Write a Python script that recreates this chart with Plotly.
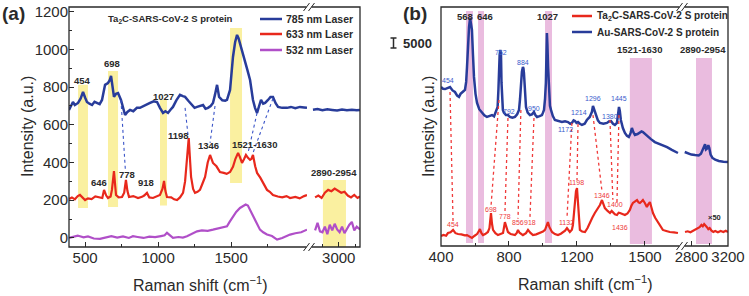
import plotly.graph_objects as go

W, H = 749, 296


def px(x):
    return x / W


def py(y):
    return 1 - y / H


# ---------------- panel (a): Ta2C-SARS-CoV-2 S protein, three lasers ----------------
a785_x = [390, 405, 417, 430, 452, 470, 486, 500, 513, 530, 548, 565, 582, 600, 616, 637, 657, 668,
          678, 688, 698, 712, 726, 746, 760, 774, 790, 808, 830, 855, 876, 900, 925, 945, 970, 993,
          1013, 1034, 1050, 1068, 1085, 1102, 1125, 1150, 1170, 1185, 1210, 1233, 1250, 1267, 1290,
          1308, 1325, 1342, 1360, 1376, 1390, 1404, 1418, 1440, 1460, 1472, 1493, 1513, 1528, 1541,
          1551, 1561, 1578, 1596, 1612, 1630, 1650, 1664, 1678, 1692, 1705, 1720, 1733, 1753, 1770,
          1787, 1805, 1822, 1850, 1883, 1910, 1940, 1972, 2000, 2020]
a785_y = [679, 700, 721, 705, 716, 740, 775, 745, 721, 712, 705, 722, 716, 710, 732, 812, 822, 835,
          859, 790, 748, 765, 769, 732, 690, 652, 668, 679, 672, 690, 690, 700, 712, 716, 725, 721,
          690, 663, 672, 663, 680, 695, 730, 759, 752, 748, 725, 705, 690, 695, 700,
          705, 685, 690, 700, 716, 760, 812, 748, 730, 728, 732, 785, 960, 1040, 1077,
          1060, 1034, 990, 944, 890, 838, 732, 690, 663, 700, 732, 712, 716, 732, 748,
          748, 715, 695, 690, 690, 695, 688, 695, 692, 690]
a785_hi_x = [2842, 2870, 2900, 2930, 2960, 2990, 3020, 3050, 3080, 3110, 3130]
a785_hi_y = [680, 684, 678, 682, 679, 676, 681, 678, 680, 677, 679]

a633_x = [390, 410, 430, 450, 465, 480, 500, 520, 545, 570, 602, 618, 630, 645, 657, 675, 684, 698,
          706, 712, 730, 753, 768, 780, 790, 801, 830, 863, 890, 905, 924, 940, 965, 990, 1013, 1030,
          1041, 1050, 1061, 1090, 1110, 1130, 1150, 1171, 1185, 1198, 1210, 1220, 1226, 1240, 1253,
          1270, 1287, 1305, 1322, 1340, 1356, 1366, 1376, 1400, 1424, 1450, 1470, 1493, 1513, 1530,
          1548, 1560, 1575, 1590, 1602, 1616, 1630, 1640, 1650, 1665, 1678, 1700, 1719, 1735, 1746,
          1765, 1787, 1820, 1850, 1880, 1904, 1940, 1970, 2000, 2020]
a633_y = [207, 215, 205, 222, 228, 215, 201, 210, 206, 220, 217, 212, 255, 225, 212, 220, 255, 355,
          280, 228, 215, 217, 240, 308, 250, 217, 222, 212, 218, 225, 239, 215, 212, 220, 228, 260,
          302, 250, 217, 215, 205, 201, 215, 239, 300, 420, 530, 400, 324, 260, 239,
          245, 255, 290, 324, 400, 440, 420, 398, 380, 350, 345, 340, 350, 377, 420,
          451, 430, 398, 420, 440, 425, 414, 420, 440, 380, 345, 320, 292, 270, 255,
          245, 228, 220, 215, 222, 212, 218, 210, 222, 228]
a633_hi_x = [2855, 2875, 2895, 2915, 2935, 2955, 2975, 2995, 3015, 3035, 3055, 3075, 3095, 3115, 3130]
a633_hi_y = [215, 225, 212, 240, 255, 248, 262, 250, 240, 245, 225, 215, 228, 212, 220]

a532_x = [390, 420, 450, 465, 490, 520, 560, 602, 640, 680, 720, 760, 800, 828, 860, 900, 940, 980,
          1020, 1045, 1061, 1080, 1102, 1140, 1170, 1198, 1230, 1267, 1300, 1340, 1376, 1420, 1450,
          1472, 1490, 1513, 1535, 1561, 1585, 1600, 1615, 1630, 1650, 1675, 1698, 1720, 1746, 1780,
          1815, 1850, 1880, 1904, 1940, 1980, 2020]
a532_y = [0, 5, 12, 9, 3, 8, -3, -5, 4, 10, 2, 8, 0, 9, 5, 0, 7, 4,
          10, 14, 27, 12, 0, 5, 2, 9, 22, 35, 40, 38, 44, 52, 58,
          62, 85, 115, 138, 159, 170, 177, 172, 150, 115, 80, 44, 30, 18, 10,
          -9, 0, 12, 18, 25, 30, 44]
a532_hi_x = [2855, 2870, 2885, 2900, 2915, 2930, 2945, 2960, 2975, 2990, 3005, 3020, 3035, 3050,
             3065, 3080, 3095, 3110, 3130]
a532_hi_y = [40, 80, 35, 30, 60, 20, 70, 40, 75, 45, 30, 60, 25, 50, 70, 85, 40, 60, 45]

# dotted guides from 785 nm bands to 633 nm bands
a_link_x = [[746, 776], [1185, 1205], [1390, 1356], [1678, 1616], [1787, 1650]]
a_link_y = [[732, 360], [690, 546], [700, 504], [663, 451], [740, 451]]

# highlighted bands: (x0, x1, y0, y1)
a_bands = [(452, 520, 159, 812), (657, 726, 164, 886), (1013, 1061, 172, 732), (1493, 1575, 292, 1114)]
a_band_hi = (2903, 3044, -48, 308)

# ---------------- panel (b): Ta2C vs Au substrate ----------------
bau_x = [400, 412, 424, 440, 453, 468, 482, 495, 506, 515, 523, 532, 541, 548, 553, 559, 565, 571,
         576, 582, 588, 594, 603, 612, 625, 641, 655, 670, 685, 700, 712, 718, 726, 733, 738, 741,
         745, 749, 753, 756, 759, 764, 770, 782, 794, 805, 820, 835, 848, 859, 865, 870, 876, 882,
         885, 888, 894, 900, 910, 923, 935, 947, 956, 965, 980, 994, 1000, 1006, 1012, 1017, 1020,
         1023, 1026, 1030, 1035, 1041, 1047, 1058, 1070, 1090, 1111, 1130, 1147, 1160, 1170, 1180,
         1188, 1197, 1206, 1217, 1229, 1245, 1258, 1275, 1288, 1294, 1300, 1311, 1323, 1335, 1355,
         1376, 1390, 1400, 1412, 1423, 1435, 1441, 1447, 1452, 1458, 1470, 1482, 1494, 1505, 1515,
         1523, 1532, 1541, 1556, 1570, 1580, 1588, 1600, 1617, 1635, 1658, 1680, 1705, 1730, 1758,
         1780, 1794]
bau_y = [93000, 92000, 91800, 92500, 93000, 91000, 90100, 88000, 87200, 89000, 89500, 90500, 91300,
         96000, 104700, 118000, 128100, 133400, 130000, 126400, 112000, 98900, 89000, 83700, 80000,
         77800, 76500, 75500, 76000, 76600, 75800, 77800, 79500, 81300, 92000, 104700, 112000,
         114700, 112000, 95400, 88000, 79600, 78000, 76600, 76600, 75500, 75000, 75500, 77000,
         79600, 86000, 95400, 102000, 104700, 104000, 101200, 90000, 81300, 78000, 76600, 77000,
         78400, 76500, 75500, 76000, 76600, 78000, 79600, 86000, 95400, 110000, 124600, 118000,
         104700, 92000, 82000, 79600, 76000, 73700, 73000, 72500, 73000, 72500, 71500, 72000,
         73500, 73100, 72000, 72500, 71500, 70800, 71500, 73700, 75500, 78500, 81900, 80000,
         76600, 73500, 72000, 71500, 72000, 73000, 73100, 71500, 70800, 72000, 76600, 81300,
         79000, 73700, 69000, 66100, 64500, 63800, 66000, 69000, 66500, 64900, 65500, 66700,
         67000, 66700, 65500, 63800, 62500, 60800, 60000, 59100, 57800, 56200, 55300, 54400]
bau_hi_x = [2728, 2760, 2800, 2840, 2880, 2905, 2925, 2940, 2950, 2960, 2972, 2985, 2995, 3010,
            3030, 3060, 3100, 3150, 3200]
bau_hi_y = [55000, 54300, 53500, 53200, 53000, 54000, 56200, 58000, 59500, 56500, 57000, 59000,
            57500, 53500, 51500, 50500, 49700, 49300, 49100]

bta_x = [400, 415, 430, 441, 456, 471, 485, 500, 520, 540, 553, 570, 582, 598, 612, 622, 629, 638,
         647, 660, 676, 685, 694, 700, 706, 720, 735, 750, 765, 776, 786, 794, 810, 835, 845, 853,
         862, 882, 900, 912, 925, 941, 960, 982, 1000, 1012, 1022, 1029, 1038, 1053, 1070, 1088,
         1105, 1117, 1130, 1141, 1150, 1158, 1170, 1176, 1183, 1188, 1194, 1200, 1206, 1212, 1217,
         1230, 1247, 1262, 1276, 1290, 1305, 1320, 1335, 1347, 1356, 1364, 1380, 1394, 1404, 1411,
         1423, 1435, 1445, 1453, 1468, 1482, 1497, 1511, 1520, 1529, 1540, 1553, 1562, 1570, 1580,
         1588, 1600, 1611, 1620, 1629, 1638, 1647, 1660, 1676, 1690, 1705, 1725, 1746, 1770, 1794]
bta_y = [5850, 6500, 6000, 7600, 8000, 9400, 7500, 7000, 6800, 6200, 6400, 5500, 4700, 6000, 7000,
         8500, 9900, 7500, 6400, 7000, 8200, 10500, 19300, 13000, 9400, 7500, 6400, 7000, 7600,
         14000, 10000, 8200, 7000, 6400, 7500, 9400, 7800, 6400, 7500, 9400, 7800, 6400, 6800,
         7600, 8500, 9400, 12500, 14000, 11000, 8200, 7000, 6400, 7200, 8200, 9000, 10500, 9000,
         8200, 9500, 12300, 20000, 28700, 32000, 33900, 25200, 15000, 9400, 8500, 8200, 10500,
         14000, 16500, 19300, 21500, 24000, 26900, 24000, 22200, 20500, 19300, 20500, 19900,
         18500, 18100, 19500, 19300, 18500, 18100, 19000, 21100, 23500, 25200, 26000, 26900,
         25500, 25200, 26000, 26900, 25000, 22800, 24500, 25700, 22500, 19300, 16500, 14000,
         11500, 9400, 8800, 8200, 8000, 7600]
bta_hi_x = [2731, 2760, 2790, 2820, 2850, 2870, 2890, 2910, 2925, 2940, 2953, 2970, 2985, 3000,
            3020, 3040, 3060, 3090, 3120, 3150, 3175, 3200]
bta_hi_y = [8200, 8600, 8000, 8800, 9500, 10500, 11000, 12300, 11500, 12800, 11700, 11000, 9900,
            10500, 9000, 8200, 8800, 8000, 8800, 8200, 8900, 8200]

b_link_x = [[453, 471], [741, 694], [794, 776], [870, 853], [947, 923], [1170, 1141],
            [1206, 1200], [1294, 1347], [1394, 1411], [1447, 1435]]
b_link_y = [[90100, 14000], [85400, 23000], [74900, 19000], [79600, 16000], [74900, 16000],
            [72000, 16000], [71400, 38500], [76600, 32000], [73700, 27000], [76600, 25200]]

b_bands = [(547, 588, 1700, 137500), (618, 653, 1700, 137500), (1012, 1053, 1700, 137500),
           (1511, 1641, 1200, 110000)]
b_band_hi = (2851, 3025, 1200, 110000)

# ---------------- styles ----------------
BLUE = "#283c9a"
RED = "#e8281c"
MAG = "#b04fc8"
YELLOW = "#faf0a0"
PINK = "#eabcdf"
INK = "#2a2a2a"
FONT = "Arial, Liberation Sans, sans-serif"

fig = go.Figure()


def line(x, y, xa, ya, color, width):
    fig.add_trace(go.Scatter(x=x, y=y, xaxis=xa, yaxis=ya, mode="lines",
                             line=dict(color=color, width=width), showlegend=False,
                             hoverinfo="skip"))


line(a532_x, a532_y, "x", "y", MAG, 2.2)
line(a532_hi_x, a532_hi_y, "x2", "y", MAG, 2.2)
line(a633_x, a633_y, "x", "y", RED, 2.2)
line(a633_hi_x, a633_hi_y, "x2", "y", RED, 2.2)
line(a785_x, a785_y, "x", "y", BLUE, 2.5)
line(a785_hi_x, a785_hi_y, "x2", "y", BLUE, 2.5)
for lx, ly in zip(a_link_x, a_link_y):
    fig.add_trace(go.Scatter(x=lx, y=ly, xaxis="x", yaxis="y", mode="lines",
                             line=dict(color="#3b55c8", width=1.1, dash="dot"),
                             showlegend=False, hoverinfo="skip"))

line(bta_x, bta_y, "x3", "y2", RED, 2.2)
line(bta_hi_x, bta_hi_y, "x4", "y2", RED, 2.2)
line(bau_x, bau_y, "x3", "y2", BLUE, 2.5)
line(bau_hi_x, bau_hi_y, "x4", "y2", BLUE, 2.5)
for lx, ly in zip(b_link_x, b_link_y):
    fig.add_trace(go.Scatter(x=lx, y=ly, xaxis="x3", yaxis="y2", mode="lines",
                             line=dict(color="#f03a3a", width=1.3, dash="dot"),
                             showlegend=False, hoverinfo="skip"))

shapes = []
for x0, x1, y0, y1 in a_bands:
    shapes.append(dict(type="rect", xref="x", yref="y", x0=x0, x1=x1, y0=y0, y1=y1,
                       fillcolor=YELLOW, line_width=0, layer="below"))
x0, x1, y0, y1 = a_band_hi
shapes.append(dict(type="rect", xref="x2", yref="y", x0=x0, x1=x1, y0=y0, y1=y1,
                   fillcolor=YELLOW, line_width=0, layer="below"))
for x0, x1, y0, y1 in b_bands:
    shapes.append(dict(type="rect", xref="x3", yref="y2", x0=x0, x1=x1, y0=y0, y1=y1,
                       fillcolor=PINK, line_width=0, layer="below"))
x0, x1, y0, y1 = b_band_hi
shapes.append(dict(type="rect", xref="x4", yref="y2", x0=x0, x1=x1, y0=y0, y1=y1,
                   fillcolor=PINK, line_width=0, layer="below"))

# frames with axis-break marks
for (l, r, t, b, brk) in [(69, 360, 7, 247, 309), (441, 728, 7, 246, 682)]:
    shapes.append(dict(type="rect", xref="paper", yref="paper", x0=px(l), x1=px(r),
                       y0=py(b), y1=py(t), line=dict(color=INK, width=1.3)))
    for yy in (t, b):
        shapes.append(dict(type="rect", xref="paper", yref="paper", x0=px(brk - 2.5),
                           x1=px(brk + 2.5), y0=py(yy + 1.5), y1=py(yy - 1.5),
                           fillcolor="white", line_width=0))
        for dx in (-2.5, 2.5):
            shapes.append(dict(type="line", xref="paper", yref="paper",
                               x0=px(brk + dx - 3), y0=py(yy + 4), x1=px(brk + dx + 3),
                               y1=py(yy - 4), line=dict(color=INK, width=1)))

# manual legends
for yy, c in [(19, BLUE), (34, RED), (50, MAG)]:
    shapes.append(dict(type="line", xref="paper", yref="paper", x0=px(260), x1=px(282),
                       y0=py(yy), y1=py(yy), line=dict(color=c, width=2.5)))
for yy, c in [(16, RED), (32, BLUE)]:
    shapes.append(dict(type="line", xref="paper", yref="paper", x0=px(572), x1=px(592),
                       y0=py(yy), y1=py(yy), line=dict(color=c, width=2.5)))

# scale bar "5000"
shapes.append(dict(type="line", xref="paper", yref="paper", x0=px(393.5), x1=px(393.5),
                   y0=py(38), y1=py(48), line=dict(color=INK, width=1.5)))
for yy in (38, 48):
    shapes.append(dict(type="line", xref="paper", yref="paper", x0=px(390.5), x1=px(396.5),
                       y0=py(yy), y1=py(yy), line=dict(color=INK, width=1.5)))

ann = []


def text(t, x, y, xref="paper", yref="paper", size=10, color=INK, bold=True, xanchor="center",
         **kw):
    if xref == "paper":
        x = px(x)
    if yref == "paper":
        y = py(y)
    ann.append(dict(text=t, x=x, y=y, xref=xref, yref=yref, showarrow=False,
                    xanchor=xanchor, yanchor="middle",
                    font=dict(family=FONT, size=size, color=color,
                              weight="bold" if bold else "normal"), **kw))


# panel (a) labels
for t, x, y in [("454", 479, 833), ("698", 684, 923), ("1027", 1034, 750), ("1198", 1137, 546),
                ("1346", 1342, 488), ("1521-1630", 1657, 498), ("646", 596, 292),
                ("778", 787, 339), ("918", 917, 292)]:
    text(t, x, y, "x", "y", size=9.5)
text("2890-2954", 2971, 345, "x2", "y", size=9.5)
text("Ta<sub>2</sub>C-SARS-CoV-2 S protein", 170, 19, size=9.5)
for t, yy in [("785 nm Laser", 19), ("633 nm Laser", 34), ("532 nm Laser", 50)]:
    text(t, 284, yy, size=10.5, xanchor="left")

# panel (b) labels
for t, x in [("568", 541), ("646", 659), ("1027", 1029)]:
    text(t, x, 134000, "x3", "y2", size=9.5)
text("1521-1630", 1570, 115000, "x3", "y2", size=9.5)
text("2890-2954", 2927, 115000, "x4", "y2", size=9.5)
for t, x, y in [("454", 441, 97100), ("752", 753, 112900), ("884", 882, 107600),
                ("792", 800, 78400), ("950", 947, 80700), ("1172", 1135, 67900),
                ("1214", 1211, 77800), ("1296", 1294, 86000), ("1380", 1394, 76000),
                ("1445", 1447, 86000)]:
    text(t, x, y, "x3", "y2", size=7, color="#3a5ccc", bold=False)
for t, x, y in [("454", 471, 12300), ("698", 694, 21600), ("778", 776, 17000),
                ("856", 853, 14000), ("918", 923, 14000), ("1132", 1141, 14000),
                ("1198", 1200, 36900), ("1346", 1347, 29800), ("1400", 1423, 24000),
                ("1436", 1453, 11100)]:
    text(t, x, y, "x3", "y2", size=7, color="#ee3b3b", bold=False)
text("×50", 3058, 16400, "x4", "y2", size=7.5)
text("Ta<sub>2</sub>C-SARS-CoV-2 S protein", 595, 16, size=10, xanchor="left")
text("Au-SARS-CoV-2 S protein", 595, 32, size=10, xanchor="left")
text("5000", 417, 43, size=13)

# panel tags and axis titles
text("(a)", 13, 14, size=19)
text("(b)", 415, 14, size=19)
text("Intensity (a.u.)", 27, 127, size=16, bold=False, textangle=-90)
text("Intensity (a.u.)", 428, 127, size=16, bold=False, textangle=-90)
text("Raman shift (cm<sup>−1</sup>)", 200, 284, size=16, bold=False)
text("Raman shift (cm<sup>−1</sup>)", 585, 283, size=16, bold=False)

tickfont = dict(family=FONT, size=15, color=INK)
common = dict(showgrid=False, zeroline=False, showline=False, ticks="inside", ticklen=5,
              tickwidth=1, tickcolor=INK, tickfont=tickfont, automargin=False, tickangle=0)
minor = dict(ticks="inside", ticklen=3, tickwidth=1, tickcolor=INK, showgrid=False)

fig.update_layout(
    template="none",
    width=W, height=H, autosize=False,
    margin=dict(l=0, r=0, t=0, b=0, pad=0),
    paper_bgcolor="white", plot_bgcolor="white",
    showlegend=False,
    xaxis=dict(domain=[px(69), px(307)], range=[390, 2020], anchor="y",
               tickvals=[500, 1000, 1500], minor=dict(tickvals=[750, 1250, 1750], **minor),
               **common),
    xaxis2=dict(domain=[px(311), px(360)], range=[2830, 3130], anchor="y",
                tickvals=[3000], minor=dict(tickvals=[2900, 3100], **minor), **common),
    yaxis=dict(domain=[py(247), py(7)], range=[-48, 1225], anchor="x",
               tickvals=[0, 200, 400, 600, 800, 1000, 1200],
               minor=dict(tickvals=[100, 300, 500, 700, 900, 1100], **minor), **common),
    xaxis3=dict(domain=[px(441), px(680)], range=[400, 1806], anchor="y2",
                tickvals=[400, 800, 1200, 1600], ticktext=["400", "800", "1200", "1500"],
                minor=dict(tickvals=[600, 1000, 1400], **minor), **common),
    xaxis4=dict(domain=[px(684), px(728)], range=[2720, 3200], anchor="y2",
                tickvals=[2800, 3200], minor=dict(tickvals=[3000], **minor), **common),
    yaxis2=dict(domain=[py(246), py(7)], range=[0, 139800], anchor="x3", automargin=False,
                showticklabels=False, showgrid=False, zeroline=False, ticks=""),
    shapes=shapes,
    annotations=ann,
)

fig.write_html("out.html", config={"displayModeBar": False},
               post_script="document.body.style.margin='0px';")
